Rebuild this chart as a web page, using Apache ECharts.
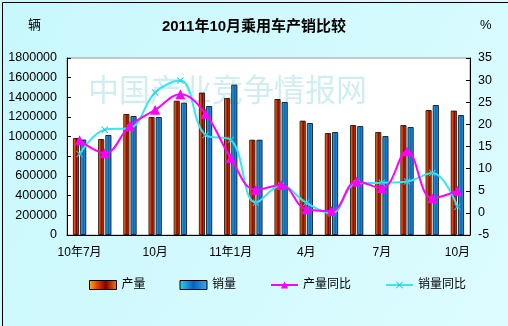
<!DOCTYPE html>
<html><head><meta charset="utf-8">
<script src="https://cdn.jsdelivr.net/npm/echarts@6/dist/echarts.min.js"></script>
<style>html,body{margin:0;padding:0;}#c{width:508px;height:326px;}</style>
</head><body><div id="c"></div>
<script>
var categories = ["10年7月","8月","9月","10月","11月","12月","11年1月","2月","3月","4月","5月","6月","7月","8月","9月","10月"];
var production = [985000,975000,1230000,1199000,1365000,1447000,1393000,968000,1382000,1162000,1036000,1117000,1046000,1117000,1270000,1264000];
var sales = [970000,1016000,1209000,1199000,1345000,1311000,1528000,968000,1352000,1138000,1046000,1107000,1005000,1097000,1321000,1219000];
var productionYoY = [16.4,13.5,19.7,23.3,26.8,22.4,12.4,5.2,6.3,0.8,0.4,7.1,5.6,13.9,3.3,5.0];
var salesYoY = [13.3,18.8,19.2,27.2,29.9,17.6,16.5,2.3,6.2,2.3,-0.1,6.7,6.8,7.1,9.0,1.4];
var leftTicks = {min:0, max:1800000, interval:200000};
var rightTicks = {min:-5, max:35, interval:5};

var FONT = '"Liberation Sans","Noto Sans CJK SC",sans-serif';
var chart = echarts.init(document.getElementById('c'));
var prodGrad = new echarts.graphic.LinearGradient(0,0,1,0,[
  {offset:0,color:'#FFB020'},{offset:0.3,color:'#E04000'},{offset:0.6,color:'#7A0000'},{offset:1,color:'#FF7A10'}]);
var salesGrad = new echarts.graphic.LinearGradient(0,0,1,0,[
  {offset:0,color:'#30D0F0'},{offset:0.5,color:'#0A60C0'},{offset:1,color:'#40A8E0'}]);
chart.setOption({
  backgroundColor: new echarts.graphic.LinearGradient(0,0,1,1,[{offset:0,color:'#C8F8FC'},{offset:1,color:'#DDFCFF'}]),
  animation:false,
  textStyle:{fontFamily:FONT},
  title:{text:'2011年10月乘用车产销比较', left:'center', top:14,
    textStyle:{fontSize:15, fontWeight:'bold', color:'#000', fontFamily:FONT}},
  graphic:[
    {type:'rect', left:0, top:0, shape:{width:507,height:325}, style:{fill:'none', stroke:'#000', lineWidth:1}, z:100},
    {type:'text', left:28, top:19, style:{text:'辆', fontSize:13, fill:'#000', fontFamily:FONT}},
    {type:'text', left:480, top:19, style:{text:'%', fontSize:13, fill:'#000', fontFamily:FONT}},
    {type:'text', left:88, top:74, z:1, style:{text:'中国产业竞争情报网', fontSize:31, letterSpacing:1.5, fill:'rgba(150,215,225,0.45)', fontFamily:'"Noto Sans CJK SC",serif'}}
  ],
  legend:{left:84, top:274, itemWidth:27, itemHeight:9, itemGap:34,
    textStyle:{fontSize:12, color:'#000', fontFamily:FONT},
    data:[
      {name:'产量', icon:'rect', itemStyle:{borderColor:'#000', borderWidth:1}},
      {name:'销量', icon:'rect', itemStyle:{borderColor:'#000', borderWidth:1}},
      {name:'产量同比'},
      {name:'销量同比'}
    ]},
  grid:{left:67, right:38, top:58, bottom:91, show:true, backgroundColor:'#fff', borderColor:'#999', borderWidth:1},
  xAxis:{type:'category', data:categories, boundaryGap:true,
    axisLine:{lineStyle:{color:'#000'}},
    axisTick:{inside:true, length:4, lineStyle:{color:'#000'}},
    axisLabel:{interval:2, margin:12, fontSize:12, color:'#000', fontFamily:FONT}},
  yAxis:[
    {type:'value', min:leftTicks.min, max:leftTicks.max, interval:leftTicks.interval,
      axisLine:{show:true, lineStyle:{color:'#000'}},
      axisTick:{show:true, inside:true, length:4, lineStyle:{color:'#000'}},
      splitLine:{show:false},
      axisLabel:{fontSize:12.5, color:'#000', margin:10, fontFamily:FONT, formatter:function(v){return String(v);}}},
    {type:'value', min:rightTicks.min, max:rightTicks.max, interval:rightTicks.interval, position:'right',
      axisLine:{show:true, lineStyle:{color:'#000'}},
      axisTick:{show:true, inside:true, length:4, lineStyle:{color:'#000'}},
      splitLine:{show:false},
      axisLabel:{fontSize:12.5, color:'#000', margin:8, fontFamily:FONT}}
  ],
  series:[
    {name:'产量', type:'bar', data:production, barWidth:6, barGap:'20%', z:2,
      itemStyle:{color:prodGrad, borderColor:'#000', borderWidth:0.8}},
    {name:'销量', type:'bar', data:sales, barWidth:6, barGap:'20%', z:2,
      itemStyle:{color:salesGrad, borderColor:'#000', borderWidth:0.8}},
    {name:'产量同比', type:'line', yAxisIndex:1, data:productionYoY, smooth:0.4, z:4,
      symbol:'triangle', symbolSize:10,
      lineStyle:{color:'#FF00FF', width:2}, itemStyle:{color:'#FF00FF'}},
    {name:'销量同比', type:'line', yAxisIndex:1, data:salesYoY, smooth:0.4, z:3,
      symbol:'path://M0,1L1,0L5,4L9,0L10,1L6,5L10,9L9,10L5,6L1,10L0,9L4,5Z', symbolSize:7,
      lineStyle:{color:'#33E8F0', width:2}, itemStyle:{color:'#33C8E0'}}
  ]
});
</script></body></html>
